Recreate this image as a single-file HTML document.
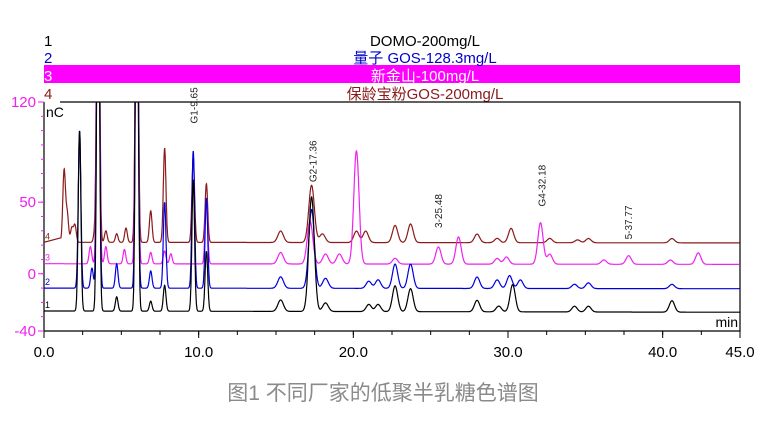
<!DOCTYPE html>
<html><head><meta charset="utf-8"><style>
body{margin:0;background:#fff;width:772px;height:425px;overflow:hidden;font-family:"Liberation Sans","Noto Sans CJK SC",sans-serif}
</style></head><body>
<svg id="chart" width="772" height="425" xmlns="http://www.w3.org/2000/svg" font-family="Liberation Sans, Noto Sans CJK SC, sans-serif">
<g>
<rect x="44" y="65" width="696" height="18" fill="#ff00ff"/>
<text x="44" y="46" font-size="15" fill="#000">1</text>
<text x="44" y="63" font-size="15" fill="#0000cc">2</text>
<text x="44" y="81" font-size="15" fill="#fff">3</text>
<text x="44" y="99" font-size="15" fill="#8b1a1a">4</text>
<text x="425" y="46" font-size="15" text-anchor="middle" fill="#000">DOMO-200mg/L</text>
<text x="425" y="63" font-size="15" text-anchor="middle" fill="#0000cc">量子 GOS-128.3mg/L</text>
<text x="425" y="81" font-size="15" text-anchor="middle" fill="#fff">新金山-100mg/L</text>
<text x="425" y="99" font-size="15" text-anchor="middle" fill="#8b1a1a">保龄宝粉GOS-200mg/L</text>
</g>
<g id="axes"></g>
<defs><clipPath id="clip"><rect x="44" y="102" width="696" height="229"/></clipPath></defs>
<g id="traces" clip-path="url(#clip)"></g>
<g id="labels"></g>
<text x="383" y="400" font-size="21" text-anchor="middle" fill="#8a8a8a">图1 不同厂家的低聚半乳糖色谱图</text>
</svg>
<script>
const xTicks=[0,10,20,30,40,45];
const xTickLabels=["0.0","10.0","20.0","30.0","40.0","45.0"];
const yTicks=[120,50,0,-40];
const yTickLabels=["120","50","0","-40"];
const baselines=[-26,-10,7,22];
const colors=["#000000","#0000dd","#ee22ee","#8b1a1a"];
const starts=[0,0,0,1.1];
const t1=[2.3,3.5,4.7,6.0,6.9,7.8,9.65,10.5,15.3,17.3,18.2,21.0,21.6,22.7,23.7,28.0,29.4,30.3,34.3,35.2,40.6];
const h1=[126,300,10,300,7,18,92,42,8,80,6,5,5,18,16,8,4,19,4,4,8];
const t2=[2.3,3.1,3.5,4.7,6.0,6.9,7.8,9.65,10.5,15.3,17.3,18.2,21.0,21.6,22.7,23.7,28.0,29.3,30.1,30.8,34.3,35.2,40.6];
const h2=[110,14,300,17,300,12,60,96,63,8,55,7,5,6,17,17,8,6,9,6,3,4,3];
const t3=[3.0,3.5,4.0,5.2,6.0,6.9,7.8,8.2,10.5,15.3,17.2,18.2,19.1,20.2,22.7,25.5,26.8,29.3,29.9,32.1,32.7,36.2,37.8,40.5,42.3];
const h3=[12,300,12,10,300,8,9,7,45,8,30,7,7,79,4,12,19,4,5,29,7,3,6,3,8];
const t4=[1.3,1.5,1.8,2.0,3.3,3.5,4.0,4.7,5.3,6.0,6.9,7.8,9.65,10.5,15.3,17.3,18.0,20.2,20.8,22.7,23.7,28.0,29.3,30.2,32.7,34.5,35.2,40.6];
const h4=[50,20,10,12,8,300,8,6,10,300,22,66,60,41,8,40,6,8,8,12,13,6,3,10,3,2,3,3];
const times=[t1,t2,t3,t4], heights=[h1,h2,h3,h4];
const peakLabels=["G1-9.65","G2-17.36","3-25.48","G4-32.18","5-37.77"];
const peakLabelTimes=[9.65,17.36,25.48,32.18,37.77];
const peakLabelValues=[105,64,32,47,24];
const X0=44,X1=740,Y0=331,Y1=102,XMIN=0,XMAX=45,YMIN=-40,YMAX=120;
const sx=t=>X0+(t-XMIN)/(XMAX-XMIN)*(X1-X0);
const sy=v=>Y0-(v-YMIN)/(YMAX-YMIN)*(Y0-Y1);
const NS="http://www.w3.org/2000/svg";
function mk(tag,attrs,parent){const e=document.createElementNS(NS,tag);for(const k in attrs)e.setAttribute(k,attrs[k]);parent.appendChild(e);return e;}
const axes=document.getElementById('axes');
let e=mk('path',{d:`M60 ${Y1}H${X1}V${Y0}H${X0}V${Y1}`,fill:'none',stroke:'#000','stroke-width':1.2},axes);


xTicks.forEach((v,i)=>{
 let l=mk('line',{x1:sx(v),x2:sx(v),y1:Y0,y2:Y0+7,stroke:'#000'},axes);
 
 
 let t=mk('text',{x:sx(v),y:357,'font-size':15,'text-anchor':'middle',fill:'#000'},axes);t.textContent=xTickLabels[i];
 
 
});
for(let v=2.5;v<45;v+=2.5){let l=mk('line',{x1:sx(v),x2:sx(v),y1:Y0,y2:Y0+4,stroke:'#000'},axes);
 
 }
yTicks.forEach((v,i)=>{
 let l=mk('line',{x1:X0-6,x2:X0,y1:sy(v),y2:sy(v),stroke:'#ee22ee'},axes);
 
 
 let t=mk('text',{x:X0-8,y:sy(v)+5,'font-size':15,'text-anchor':'end',fill:'#ee22ee'},axes);t.textContent=yTickLabels[i];
 
 
});
for(let v=-30;v<120;v+=10){let l=mk('line',{x1:X0-3,x2:X0,y1:sy(v),y2:sy(v),stroke:'#ee22ee'},axes);
 
 }
let u=mk('text',{x:46,y:117,'font-size':14,fill:'#000'},axes);u.textContent='nC';


let m=mk('text',{x:738,y:327,'font-size':14,'text-anchor':'end',fill:'#000'},axes);m.textContent='min';


const tr=document.getElementById('traces');
for(let s=3;s>=0;s--){
 let d='';
 if(starts[s]>0){d='M'+sx(0).toFixed(1)+' '+sy(baselines[s]).toFixed(1);}
 for(let t=starts[s];t<=45;t+=0.015){
  let v=baselines[s]-0.02*t*(s==0?1:0.5);
  times[s].forEach((c,i)=>{const w=c<12?0.085:(c<20?0.18:0.17);v+=heights[s][i]*Math.exp(-0.5*((t-c)/w)**2);});
  d+=(d?'L':'M')+sx(t).toFixed(1)+' '+sy(v).toFixed(1);
 }
 let p=mk('path',{d:d,fill:'none',stroke:colors[s],'stroke-width':1.2},tr);
 
 
 let n=mk('text',{x:45,y:sy(baselines[s])-3,'font-size':9,fill:colors[s]},tr);n.textContent=String(s+1);
 
 
}
const lb=document.getElementById('labels');
peakLabels.forEach((s,i)=>{
 const x=sx(peakLabelTimes[i])+4,y=sy(peakLabelValues[i]);
 let t=mk('text',{x:x,y:y,'font-size':10,fill:'#222',transform:`rotate(-90 ${x} ${y})`},lb);t.textContent=s;
 
 
});
</script>
</body></html>
